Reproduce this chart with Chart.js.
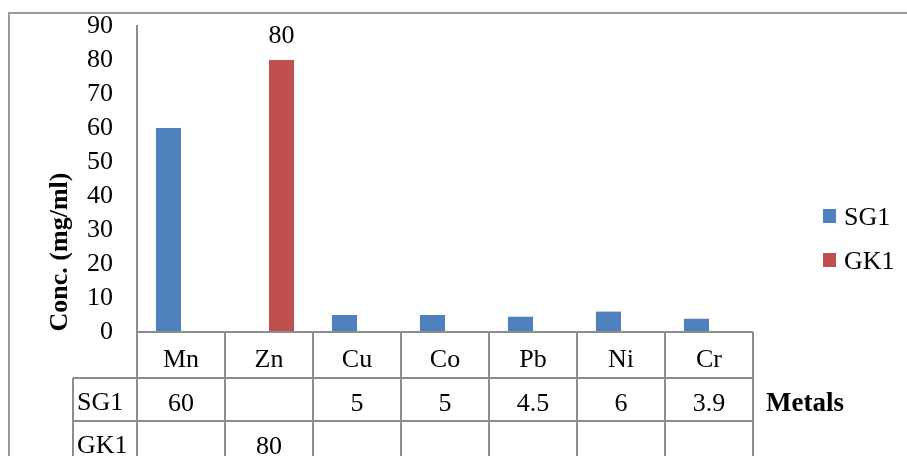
<!DOCTYPE html>
<html>
<head>
<meta charset="utf-8">
<style>
  html, body { margin: 0; padding: 0; background: #ffffff; }
  #wrap { width: 907px; height: 456px; position: relative; }
</style>
<script src="https://cdn.jsdelivr.net/npm/chart.js@4.4.1/dist/chart.umd.min.js"></script>
</head>
<body>
<div id="wrap"><canvas id="chart" width="907" height="456"></canvas></div>
<script>
// Metal concentrations per sample (mg/ml); null = not measured
const metals = ['Mn', 'Zn', 'Cu', 'Co', 'Pb', 'Ni', 'Cr'];
const sg1 = [60, null, 5, 5, 4.5, 6, 3.9];
const gk1 = [null, 80, null, null, null, null, null];
const seriesNames = ['SG1', 'GK1'];
const yTicks = [0, 10, 20, 30, 40, 50, 60, 70, 80, 90];

const SERIF = '"Liberation Serif", "Times New Roman", serif';
const LINE = '#8c8c8c';
const COLORS = ['#4F81BD', '#C0504D'];
const FONT_SIZE = 26;

// Frame around the whole figure
const framePlugin = {
  id: 'frame',
  beforeDraw(chart) {
    const ctx = chart.ctx;
    ctx.save();
    ctx.strokeStyle = '#9a9a9a';
    ctx.lineWidth = 2;
    ctx.beginPath();
    ctx.moveTo(9, chart.height + 2);
    ctx.lineTo(9, 13);
    ctx.lineTo(chart.width + 2, 13);
    ctx.stroke();
    ctx.restore();
  }
};

// Data table under the plot: category header row plus one row per series
const tablePlugin = {
  id: 'dataTable',
  afterDraw(chart) {
    const ctx = chart.ctx;
    const x = chart.scales.x;
    const area = chart.chartArea;
    const n = metals.length;
    const step = (area.right - area.left) / n;
    const left = area.left, right = area.right;
    const labelLeft = 73;
    const rowTops = [area.bottom, area.bottom + 46, area.bottom + 89];
    const bottom = chart.height + 2;

    ctx.save();
    ctx.strokeStyle = LINE;
    ctx.lineWidth = 2;
    ctx.beginPath();
    // horizontal rules
    ctx.moveTo(left, rowTops[0]); ctx.lineTo(right, rowTops[0]);
    ctx.moveTo(labelLeft, rowTops[1]); ctx.lineTo(right, rowTops[1]);
    ctx.moveTo(labelLeft, rowTops[2]); ctx.lineTo(right, rowTops[2]);
    // vertical rules
    ctx.moveTo(labelLeft, rowTops[1]); ctx.lineTo(labelLeft, bottom);
    ctx.moveTo(left, area.top); ctx.lineTo(left, bottom);
    for (let i = 1; i <= n; i++) {
      const xx = left + step * i;
      ctx.moveTo(xx, rowTops[0]); ctx.lineTo(xx, bottom);
    }
    ctx.stroke();

    ctx.fillStyle = '#000000';
    ctx.font = FONT_SIZE + 'px ' + SERIF;
    ctx.textAlign = 'center';
    ctx.textBaseline = 'middle';
    metals.forEach((m, i) => {
      const cx = x.getPixelForValue(i);
      ctx.fillText(m, cx, rowTops[0] + 28);
    });
    const rows = [sg1, gk1];
    rows.forEach((vals, r) => {
      vals.forEach((v, i) => {
        if (v === null) return;
        ctx.fillText(String(v), x.getPixelForValue(i), rowTops[r + 1] + 26);
      });
    });
    ctx.textAlign = 'left';
    seriesNames.forEach((name, r) => {
      ctx.fillText(name, labelLeft + 4, rowTops[r + 1] + 25);
    });

    // x-axis title
    ctx.font = 'bold 27px ' + SERIF;
    ctx.fillText('Metals', 766, rowTops[1] + 26);

    // y-axis title
    ctx.save();
    ctx.translate(60, 252);
    ctx.rotate(-Math.PI / 2);
    ctx.textAlign = 'center';
    ctx.font = 'bold 26px ' + SERIF;
    ctx.fillText('Conc. (mg/ml)', 0, 0);
    ctx.restore();

    // legend
    ctx.font = FONT_SIZE + 'px ' + SERIF;
    seriesNames.forEach((name, r) => {
      const cy = 216 + r * 44;
      ctx.fillStyle = COLORS[r];
      ctx.fillRect(823, cy - 7, 13, 14);
      ctx.fillStyle = '#000000';
      ctx.textAlign = 'left';
      ctx.fillText(name, 844, cy + 2);
    });
    ctx.restore();
  }
};

// Value labels above the GK1 bars
const valueLabelPlugin = {
  id: 'valueLabels',
  afterDatasetsDraw(chart) {
    const ctx = chart.ctx;
    const meta = chart.getDatasetMeta(1);
    ctx.save();
    ctx.font = FONT_SIZE + 'px ' + SERIF;
    ctx.fillStyle = '#000000';
    ctx.textAlign = 'center';
    ctx.textBaseline = 'bottom';
    meta.data.forEach((bar, i) => {
      const v = gk1[i];
      if (v === null) return;
      ctx.fillText(String(v), bar.x, bar.y - 11);
    });
    ctx.restore();
  }
};

new Chart(document.getElementById('chart'), {
  type: 'bar',
  data: {
    labels: metals,
    datasets: [
      { label: seriesNames[0], data: sg1, backgroundColor: COLORS[0] },
      { label: seriesNames[1], data: gk1, backgroundColor: COLORS[1] }
    ]
  },
  options: {
    responsive: false,
    animation: false,
    devicePixelRatio: 1,
    layout: { padding: { left: 0, top: 26, right: 154, bottom: 124 } },
    datasets: { bar: { categoryPercentage: 0.57, barPercentage: 1.0 } },
    plugins: { legend: { display: false }, tooltip: { enabled: false } },
    scales: {
      x: { display: false },
      y: {
        min: 0,
        max: 90,
        afterBuildTicks(scale) { scale.ticks = yTicks.map(v => ({ value: v })); },
        afterFit(scale) {
          scale.width = 137;
          scale.paddingTop = 0;
          scale.paddingBottom = 0;
        },
        grid: { display: false, drawTicks: false },
        border: { display: true, color: LINE, width: 2 },
        ticks: {
          autoSkip: false,
          padding: 24,
          color: '#000000',
          font: { family: SERIF, size: FONT_SIZE, lineHeight: 1 }
        }
      }
    }
  },
  plugins: [framePlugin, tablePlugin, valueLabelPlugin]
});
</script>
</body>
</html>
